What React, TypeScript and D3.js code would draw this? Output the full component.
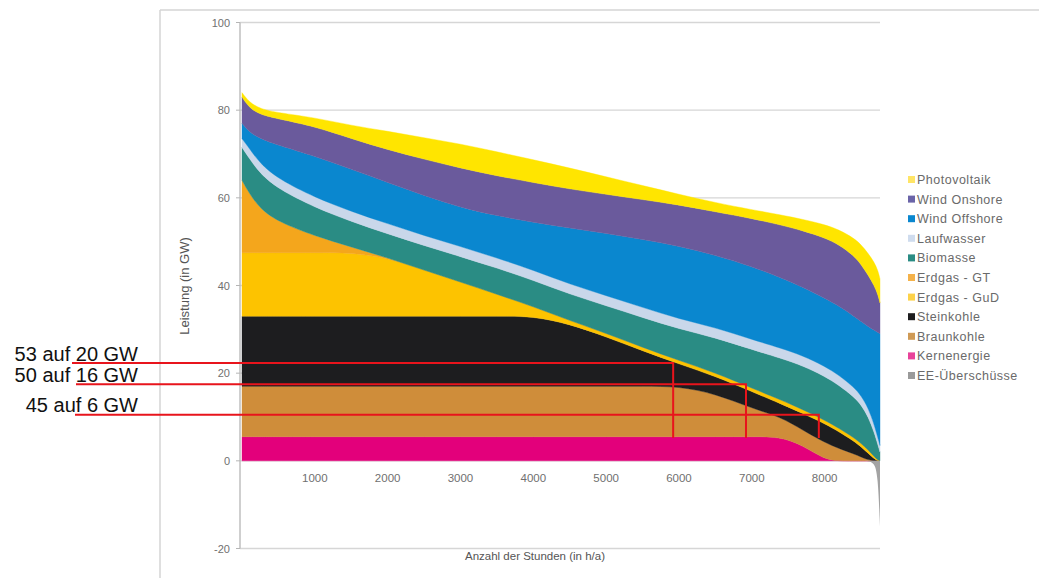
import React from "react";
import * as d3 from "d3";

// ---------- data ----------
const hours = [0, 100, 250, 500, 1000, 1500, 2000, 2500, 3000, 3500, 4000, 4500, 5000, 5500, 6000, 6500, 7000, 7400, 7700, 8000, 8200, 8400, 8500, 8600, 8680, 8730, 8760];

const kernenergie = [5.5, 5.5, 5.5, 5.5, 5.5, 5.5, 5.5, 5.5, 5.5, 5.5, 5.5, 5.5, 5.5, 5.5, 5.5, 5.5, 5.5, 5.5, 3.5, 0.3, 0, 0, 0, 0, 0, 0, 0];
const braunkohle = [11.5, 11.5, 11.5, 11.5, 11.5, 11.5, 11.5, 11.5, 11.5, 11.5, 11.5, 11.5, 11.5, 11.5, 11.5, 9.8, 6.5, 4.5, 3.5, 3.9, 2.8, 1.6, 0.9, 0.2, 0, 0, 0];
const steinkohle = [16, 16, 16, 16, 16, 16, 16, 16, 16, 16, 16, 14.2, 11.3, 8.1, 5.1, 4.0, 3.8, 3.0, 3.8, 4.3, 3.8, 2.9, 2.3, 1.5, 0.5, 0, 0];
const erdgasGuD = [14.5, 14.5, 14.5, 14.5, 14.5, 14.5, 13.3, 10.5, 7.8, 5.0, 2.2, 0.8, 0.8, 0.8, 0.8, 0.8, 0.8, 0.9, 0.9, 0.8, 0.8, 0.8, 0.8, 0.8, 0.5, 0.2, 0];
const erdgasGT = [16.5, 13.5, 10, 7, 3.8, 1.3, 0, 0, 0, 0, 0, 0, 0, 0, 0, 0, 0, 0, 0, 0, 0, 0, 0, 0, 0, 0, 0];
const biomasse = [7.5, 8, 8, 7.5, 6.5, 5.8, 5.5, 5.6, 5.8, 6, 6, 6, 6.3, 6.8, 7.2, 8, 8.8, 9.5, 10, 10, 9.8, 9.3, 8.8, 7.5, 5.5, 3.5, 2];
const laufwasser = [2, 2.3, 2.3, 2.3, 2.3, 2.3, 2.3, 2.3, 2.3, 2.3, 2.3, 2.3, 2.3, 2.3, 2.3, 2.3, 2.3, 2.3, 2.3, 2.3, 2.3, 2.2, 2.1, 2, 1.8, 1.6, 1.5];
const windOffshore = [3.5, 3.7, 5.7, 7.7, 9.4, 9.6, 9.4, 9.1, 8.9, 9.6, 10.9, 12.8, 14.2, 15.5, 16.6, 16.5, 16.6, 16.1, 15.6, 15.5, 15.8, 16.2, 16.9, 18.6, 21.5, 24, 25.5];
const windOnshore = [6, 5.5, 5.5, 6, 6.8, 7, 7.5, 8.3, 9, 9.1, 9.1, 8.9, 8.9, 9.1, 9.4, 9.9, 11, 12, 12.9, 13.8, 14, 13.8, 13, 11.7, 10.2, 8.7, 7];
const photovoltaik = [1, 1.3, 1.3, 1.4, 2, 3, 4.2, 4.9, 5.5, 5.5, 5.2, 4.8, 4, 3.2, 2.4, 2.1, 2, 2.3, 2.6, 3, 3.4, 4, 4.5, 5, 5.3, 5.5, 5.5];
const eeUeberschuesse = [0, 0, 0, 0, 0, 0, 0, 0, 0, 0, 0, 0, 0, 0, 0, 0, 0, 0, 0, 0, 0, 0, 0, 0, -0.5, -3, -15];

const seriesNames = ["Kernenergie", "Braunkohle", "Steinkohle", "Erdgas - GuD", "Erdgas - GT", "Biomasse", "Laufwasser", "Wind Offshore", "Wind Onshore", "Photovoltaik"];
const seriesValues = [kernenergie, braunkohle, steinkohle, erdgasGuD, erdgasGT, biomasse, laufwasser, windOffshore, windOnshore, photovoltaik];
const seriesColors = ["#e3007b", "#cf8d3a", "#1d1d1f", "#fdc300", "#f4a61c", "#2a8c84", "#c9d7ea", "#0a87cf", "#6a5a9c", "#ffe500"];

const legendNames = ["Photovoltaik", "Wind Onshore", "Wind Offshore", "Laufwasser", "Biomasse", "Erdgas - GT", "Erdgas - GuD", "Steinkohle", "Braunkohle", "Kernenergie", "EE-Überschüsse"];
const legendColors = ["#ffe566", "#6a64a8", "#0a87cf", "#cfdcee", "#2a8c84", "#f4b24a", "#fdd24a", "#1d1d1f", "#cf9a55", "#e8439a", "#9a9a9a"];
const eeColor = "#a3a3a3";

const xTicks = [1000, 2000, 3000, 4000, 5000, 6000, 7000, 8000];
const yTicks = [-20, 0, 20, 40, 60, 80, 100];

const annotationLabels = ["53 auf 20 GW", "50 auf 16 GW", "45 auf 6 GW"];
const annotationGW = [22.3, 17.5, 10.5];
const annotationHours = [5920, 6920, 7920];
const annotationBaseGW = 5.2;

// ---------- layout ----------
const W = 1039;
const H = 578;
const plotLeft = 242;
const plotRight = 880;
const yTop = 22.5;
const yBottom = 548.5;

export default function App() {
  const x = d3.scaleLinear().domain([0, 8760]).range([plotLeft, plotRight]);
  const y = d3.scaleLinear().domain([-20, 100]).range([yBottom, yTop]);

  const table = hours.map((h, i) => {
    const row: any = { h };
    seriesNames.forEach((n, k) => (row[n] = seriesValues[k][i]));
    return row;
  });
  const stacked = d3.stack<any>().keys(seriesNames)(table);

  const area = d3
    .area<any>()
    .x((d: any) => x(d.data.h))
    .y0((d: any) => y(d[0]))
    .y1((d: any) => y(d[1]))
    .curve(d3.curveBasis);

  const eeArea = d3
    .area<number>()
    .x((_, i) => x(hours[i]))
    .y0(() => y(0))
    .y1((d) => y(d))
    .curve(d3.curveBasis);

  const font = "'Liberation Sans', Arial, sans-serif";
  const tickColor = "#707070";

  return (
    <svg width={W} height={H} style={{ position: "absolute", left: 0, top: 0, background: "#fff" }} fontFamily={font}>
      {/* outer frame */}
      <line x1={160} y1={10} x2={W} y2={10} stroke="#d4d4d4" strokeWidth={1.5} />
      <line x1={160} y1={10} x2={160} y2={H} stroke="#d4d4d4" strokeWidth={1.5} />

      {/* grid */}
      {yTicks.map((t) => (
        <line key={"g" + t} x1={plotLeft - 2} x2={plotRight} y1={y(t)} y2={y(t)} stroke="#d6d6d6" strokeWidth={1.3} />
      ))}

      {/* stacked areas */}
      {stacked.map((s, k) => (
        <path key={seriesNames[k]} d={area(s) || ""} fill={seriesColors[k]} stroke={seriesColors[k]} strokeWidth={0.4} />
      ))}
      <path d={eeArea(eeUeberschuesse) || ""} fill={eeColor} />

      {/* y axis */}
      <line x1={plotLeft - 2} x2={plotLeft - 2} y1={yTop} y2={yBottom} stroke="#b5b5b5" strokeWidth={1.3} />
      {yTicks.map((t) => (
        <g key={"yt" + t}>
          <line x1={plotLeft - 6} x2={plotLeft - 2} y1={y(t)} y2={y(t)} stroke="#b5b5b5" />
          <text x={plotLeft - 12} y={y(t) + 4} textAnchor="end" fontSize={11} fill={tickColor}>
            {t}
          </text>
        </g>
      ))}
      {xTicks.map((t) => (
        <text key={"xt" + t} x={x(t)} y={482} textAnchor="middle" fontSize={11.5} fill={tickColor}>
          {t}
        </text>
      ))}
      <text x={535} y={560} textAnchor="middle" fontSize={11.5} fill="#555">
        Anzahl der Stunden (in h/a)
      </text>
      <text transform={`translate(189,286) rotate(-90)`} textAnchor="middle" fontSize={13} fill="#555">
        Leistung (in GW)
      </text>

      {/* legend */}
      {legendNames.map((n, i) => (
        <g key={n} transform={`translate(908,${180 + i * 19.6})`}>
          <rect x={0} y={-4} width={7} height={7} fill={legendColors[i]} />
          <text x={9} y={4} fontSize={12.5} letterSpacing={0.5} fill="#6a6a6a">
            {n}
          </text>
        </g>
      ))}

      {/* annotations */}
      {annotationLabels.map((lab, i) => (
        <g key={lab}>
          <path
            d={`M${[72, 76, 75][i]},${y(annotationGW[i])}H${x(annotationHours[i])}V${y(annotationBaseGW)}`}
            fill="none"
            stroke="#e8141c"
            strokeWidth={2}
          />
          <text x={138} y={y(annotationGW[i]) - 2.5} textAnchor="end" fontSize={20} fill="#111">
            {lab}
          </text>
        </g>
      ))}
    </svg>
  );
}
